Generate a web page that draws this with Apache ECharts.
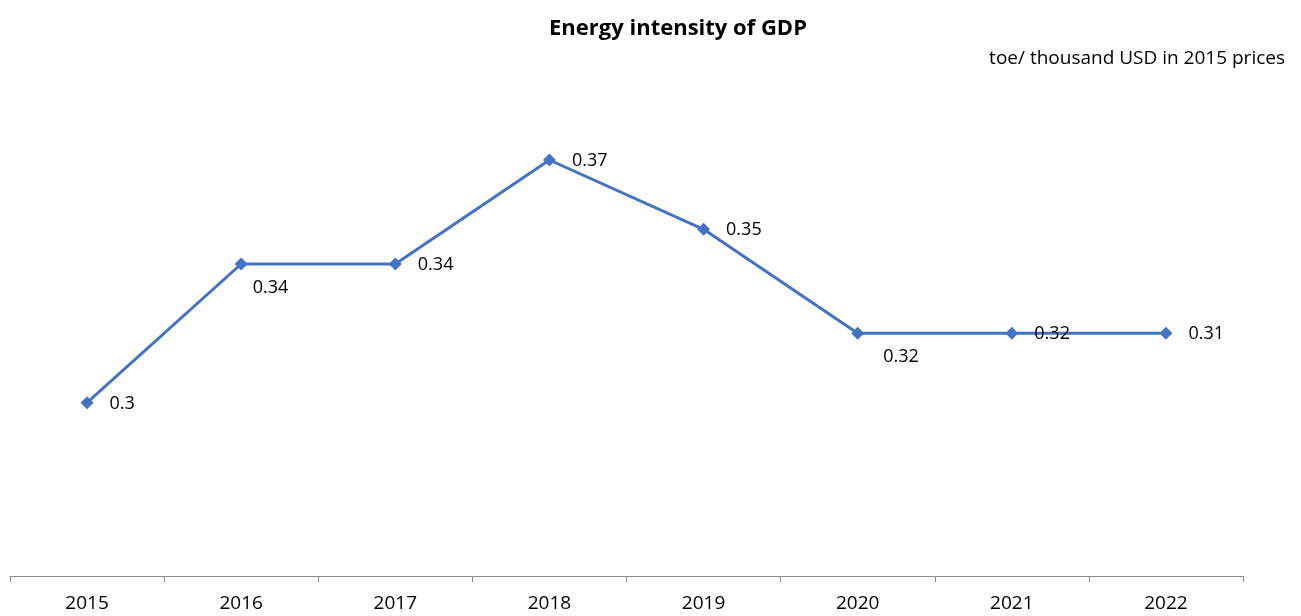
<!DOCTYPE html>
<html>
<head>
<meta charset="utf-8">
<script src="https://cdn.jsdelivr.net/npm/echarts@6/dist/echarts.min.js"></script>
<style>
  html, body { margin: 0; padding: 0; background: #fff; }
  #chart { width: 1301px; height: 616px; }
</style>
</head>
<body>
<div id="chart"></div>
<script>
// data
const years = ["2015", "2016", "2017", "2018", "2019", "2020", "2021", "2022"];
const intensity = [0.30, 0.34, 0.34, 0.37, 0.35, 0.32, 0.32, 0.32];
// labels as printed on the chart (last one shows 0.31)
const labelText = ["0.3", "0.34", "0.34", "0.37", "0.35", "0.32", "0.32", "0.31"];

const font = "Open Sans";

// two labels sit under their point, shifted to the right
const belowOffsets = { 1: [5, 24], 5: [19, 24] };

const chart = echarts.init(document.getElementById("chart"));

const points = intensity.map((v, i) => ({
  value: v,
  label: belowOffsets[i]
    ? { position: "right", distance: 0, offset: belowOffsets[i] }
    : { position: "right", distance: 16, offset: [0, 1] }
}));

chart.setOption({
  animation: false,
  title: [
    {
      text: "Energy intensity of GDP",
      left: 673, top: 13, textAlign: "center",
      textStyle: { fontFamily: font, fontWeight: "bold", fontSize: 22, color: "#000" }
    },
    {
      text: "toe/ thousand USD in 2015 prices",
      right: 11, top: 44,
      textStyle: { fontFamily: font, fontWeight: "normal", fontSize: 19, color: "#000" }
    }
  ],
  grid: { left: 10, right: 58, top: 56, bottom: 40 },
  xAxis: {
    type: "category",
    data: years,
    boundaryGap: true,
    axisLine: { lineStyle: { color: "#8c8c8c", width: 1 } },
    axisTick: { show: true, length: 6, alignWithLabel: false, lineStyle: { color: "#8c8c8c" } },
    axisLabel: { fontFamily: font, fontSize: 19, color: "#000", margin: 18 }
  },
  yAxis: {
    type: "value",
    min: 0.25, max: 0.40,
    show: false,
    splitLine: { show: false }
  },
  series: [{
    type: "line",
    data: points,
    symbol: "diamond",
    symbolSize: 13,
    lineStyle: { color: "#4472C4", width: 3 },
    itemStyle: { color: "#4472C4" },
    label: {
      show: true,
      fontFamily: font, fontSize: 18, color: "#000",
      formatter: p => labelText[p.dataIndex]
    }
  }]
});
</script>
</body>
</html>
